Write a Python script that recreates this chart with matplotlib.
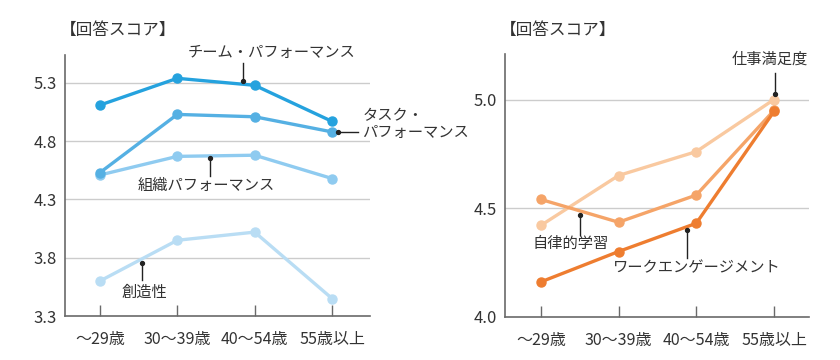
import matplotlib
matplotlib.use("Agg")
import matplotlib.pyplot as plt

plt.rcParams['font.family'] = ['Noto Sans CJK JP', 'DejaVu Sans']

categories = ["～29歳", "30～39歳", "40～54歳", "55歳以上"]

# left panel
team = [5.11, 5.34, 5.28, 4.97]
task = [4.53, 5.03, 5.01, 4.88]
org = [4.51, 4.67, 4.68, 4.48]
creativity = [3.60, 3.95, 4.02, 3.45]
left_ticks = [3.3, 3.8, 4.3, 4.8, 5.3]

# right panel
satisfaction = [4.42, 4.65, 4.76, 5.00]
learning = [4.54, 4.435, 4.56, 4.95]
engagement = [4.16, 4.30, 4.43, 4.945]
right_ticks = [4.0, 4.5, 5.0]

fig = plt.figure(figsize=(8.4, 3.6), dpi=100)
axL = fig.add_axes([0.0774, 0.1222, 0.3631, 0.725])
axR = fig.add_axes([0.6012, 0.1203, 0.3619, 0.730])

x = list(range(len(categories)))
text_col = "#333333"

def style(ax, ticks, ylim, xlim, fmt):
    ax.set_xlim(*xlim)
    ax.set_ylim(*ylim)
    ax.set_yticks(ticks)
    ax.set_yticklabels([fmt.format(t) for t in ticks], fontsize=12, color=text_col)
    ax.set_xticks(x)
    ax.set_xticklabels(categories, fontsize=11.5, color=text_col)
    for s in ["top", "right"]:
        ax.spines[s].set_visible(False)
    for s in ["left", "bottom"]:
        ax.spines[s].set_color("#6a6a6a")
        ax.spines[s].set_linewidth(1.2)
    ax.tick_params(axis="y", length=0, pad=6)
    ax.tick_params(axis="x", direction="in", length=8, width=1.0, color="#6a6a6a", pad=11)
    for t in ticks[1:]:
        ax.axhline(t, color="#cccccc", lw=1.0, zorder=0)

def series(ax, vals, color, z):
    ax.plot(x, vals, color=color, lw=2.4, marker="o", ms=6.5, zorder=z, clip_on=False)

def leader(ax, p0, p1):
    ax.plot([p0[0], p1[0]], [p0[1], p1[1]], color="#222222", lw=1.0, zorder=10, clip_on=False)
    ax.plot([p0[0]], [p0[1]], "o", color="#222222", ms=2.8, zorder=11, clip_on=False)

style(axL, left_ticks, (3.3, 5.54), (-0.45, 3.49), "{:.1f}")
series(axL, creativity, "#b9ddf4", 3)
series(axL, org, "#8fcbf0", 4)
series(axL, task, "#55b0e3", 5)
series(axL, team, "#25a2de", 6)

fs = 11
leader(axL, (1.85, 5.314), (1.85, 5.47))
axL.text(2.22, 5.56, "チーム・パフォーマンス", ha="center", va="center", fontsize=fs, color=text_col, clip_on=False)
leader(axL, (3.08, 4.877), (3.34, 4.877))
axL.text(3.39, 4.95, "タスク・\nパフォーマンス", ha="left", va="center", fontsize=fs, color=text_col,
         linespacing=1.0, clip_on=False)
leader(axL, (1.42, 4.654), (1.42, 4.50))
axL.text(1.38, 4.42, "組織パフォーマンス", ha="center", va="center", fontsize=fs, color=text_col)
leader(axL, (0.54, 3.754), (0.54, 3.61))
axL.text(0.58, 3.505, "創造性", ha="center", va="center", fontsize=fs, color=text_col)

style(axR, right_ticks, (4.0, 5.21), (-0.46, 3.45), "{:.1f}")
series(axR, satisfaction, "#f9c9a0", 3)
series(axR, learning, "#f5a468", 4)
series(axR, engagement, "#ee7d30", 5)

leader(axR, (3.01, 5.026), (3.01, 5.12))
axR.text(2.95, 5.185, "仕事満足度", ha="center", va="center", fontsize=fs, color=text_col, clip_on=False)
leader(axR, (0.50, 4.47), (0.50, 4.378))
axR.text(0.39, 4.34, "自律的学習", ha="center", va="center", fontsize=fs, color=text_col)
leader(axR, (1.88, 4.397), (1.88, 4.27))
axR.text(2.01, 4.225, "ワークエンゲージメント", ha="center", va="center", fontsize=fs, color=text_col)

fig.text(0.071, 0.915, "【回答スコア】", ha="left", va="center", fontsize=12, color=text_col)
fig.text(0.595, 0.915, "【回答スコア】", ha="left", va="center", fontsize=12, color=text_col)

fig.savefig("out.png", dpi=100)
